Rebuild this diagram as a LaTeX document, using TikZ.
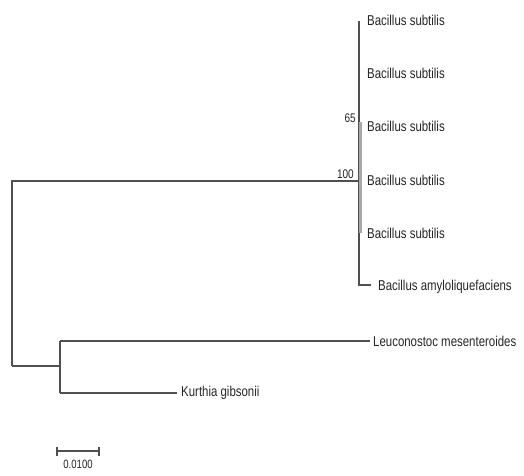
\documentclass[tikz,border=0pt]{standalone}
\usepackage{fontspec}
\setmainfont[FakeStretch=0.8]{Liberation Sans}
\definecolor{branch}{HTML}{505050}
\definecolor{txt}{HTML}{262626}
\definecolor{bar}{HTML}{A8A8A8}
\begin{document}
\begin{tikzpicture}[x=1pt,y=-1pt,
  br/.style={draw=branch,line width=1.1pt},
  taxon/.style={anchor=west,inner sep=0pt,text=txt,font=\fontsize{14.3}{16}\selectfont},
  boot/.style={anchor=south east,inner sep=0pt,text=txt,font=\fontsize{12.5}{14}\selectfont}]
\useasboundingbox[fill=white] (0,0) rectangle (524,475);
% internal nodes
\coordinate (root) at (12,181);
\coordinate (n100) at (359,181);
\coordinate (n65) at (359,122);
\coordinate (nlow) at (60,366);
\coordinate (bs1) at (359,21);
\coordinate (bs5) at (359,233);
\coordinate (ba) at (371,285);
\coordinate (lm) at (370,341);
\coordinate (kg) at (177,393);
% labels
\node[taxon] (t1) at (367,20) {Bacillus subtilis};
\node[taxon] (t2) at (367,73) {Bacillus subtilis};
\node[taxon] (t3) at (367,126) {Bacillus subtilis};
\node[taxon] (t4) at (367,180) {Bacillus subtilis};
\node[taxon] (t5) at (367,233) {Bacillus subtilis};
\node[taxon] (t6) at (378,287) {Bacillus amyloliquefaciens};
\node[taxon] (t7) at (373,341) {Leuconostoc mesenteroides};
\node[taxon] (t8) at (181,393) {Kurthia gibsonii};
% branches
\draw[br] (root |- nlow) -- (root) -- (n100);
\draw[br] (bs1) -- (n100 |- ba) -- (ba);
\draw[draw=bar,line width=2.6pt] ([xshift=1.3pt]n65) -- ([xshift=1.3pt]bs5);
\draw[br] (root |- nlow) -- (nlow);
\draw[br] (nlow |- lm) -- (nlow |- kg);
\draw[br] (nlow |- lm) -- (lm);
\draw[br] (nlow |- kg) -- (kg);
% bootstrap
\node[boot] (b65) at (356,123) {65};
\node[boot] (b100) at (354,179) {100};
% scale bar
\coordinate (sb1) at (57,451);
\coordinate (sb2) at (99,451);
\draw[br] (sb1) -- (sb2);
\draw[br] ([yshift=-4.5pt]sb1) -- ([yshift=4.5pt]sb1);
\draw[br] ([yshift=-4.5pt]sb2) -- ([yshift=4.5pt]sb2);
\node[anchor=center,inner sep=0pt,text=txt,font=\fontsize{12}{13}\selectfont] (sbl) at (78,464) {0.0100};
\end{tikzpicture}
\end{document}
